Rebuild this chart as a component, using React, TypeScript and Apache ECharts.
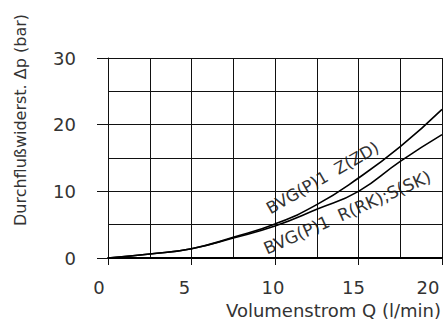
import React, { useEffect, useRef } from "react";
import * as echarts from "echarts";

const flowQ = [0, 2.5, 5, 7.5, 10, 12.5, 15, 17.5, 20];
const dpZD = [0, 0.6, 1.4, 3.1, 5.1, 8.0, 12.0, 16.7, 22.3];
const dpRKSK = [0, 0.6, 1.4, 3.0, 4.8, 7.3, 10.0, 14.5, 18.5];
const xTicks = [0, 5, 10, 15, 20];
const yTicks = [0, 10, 20, 30];
const labelZD = "BVG(P)1\u00a0\u00a0Z(ZD)";
const labelRKSK = "BVG(P)1\u00a0\u00a0R(RK);S(SK)";
const xTitle = "Volumenstrom Q (l/min)";
const yTitle = "Durchflußwiderst. Δp (bar)";

const FONT = "DejaVu Sans";
const TXT = "#333";
const LINE = "#111";

const xPad: Record<string, number> = { p0: 18, p5: 14, p10: 4, p15: 10, p20: 28 };

export default function App() {
  const ref = useRef<HTMLDivElement>(null);
  useEffect(() => {
    if (!ref.current) return;
    const chart = echarts.init(ref.current, undefined, { renderer: "svg" });
    const rich: any = {};
    xTicks.forEach((t) => {
      rich["p" + t] = {
        fontSize: 18,
        fontFamily: FONT,
        color: TXT,
        padding: [0, xPad["p" + t] || 0, 0, 0],
      };
    });
    const option: any = {
      animation: false,
      grid: { left: 108, right: 3, top: 58, bottom: 62 },
      xAxis: {
        type: "value",
        min: 0,
        max: 20,
        interval: 5,
        axisLine: { show: true, lineStyle: { color: "#000", width: 2 } },
        axisTick: { show: true, length: 7, lineStyle: { color: LINE, width: 1 } },
        splitLine: { show: true, lineStyle: { color: LINE, width: 1 } },
        minorTick: { show: false, splitNumber: 2 },
        minorSplitLine: { show: true, lineStyle: { color: LINE, width: 1 } },
        axisLabel: {
          margin: 20,
          fontSize: 18,
          fontFamily: FONT,
          color: TXT,
          formatter: (v: number) => (xTicks.includes(v) ? `{p${v}|${v}}` : ""),
          rich,
        },
      },
      yAxis: {
        type: "value",
        min: 0,
        max: 30,
        interval: 10,
        axisLine: { show: true, lineStyle: { color: LINE, width: 1 } },
        axisTick: { show: true, length: 11, lineStyle: { color: LINE, width: 1 } },
        splitLine: { show: true, lineStyle: { color: LINE, width: 1 } },
        minorTick: { show: false, splitNumber: 2 },
        minorSplitLine: { show: true, lineStyle: { color: LINE, width: 1 } },
        axisLabel: {
          margin: 32,
          fontSize: 18,
          fontFamily: FONT,
          color: TXT,
          formatter: (v: number) => (yTicks.includes(v) ? String(v) : ""),
        },
      },
      series: [
        {
          type: "line",
          name: labelZD,
          smooth: true,
          symbol: "none",
          lineStyle: { color: "#000", width: 1.6 },
          data: flowQ.map((q, i) => [q, dpZD[i]]),
        },
        {
          type: "line",
          name: labelRKSK,
          smooth: true,
          symbol: "none",
          lineStyle: { color: "#000", width: 1.6 },
          data: flowQ.map((q, i) => [q, dpRKSK[i]]),
        },
      ],
      graphic: [
        {
          type: "text",
          x: 20,
          y: 120,
          rotation: Math.PI / 2,
          style: {
            text: yTitle,
            fontSize: 16,
            fontFamily: FONT,
            fill: TXT,
            align: "center",
            verticalAlign: "middle",
          },
        },
        {
          type: "text",
          x: 441,
          y: 310,
          style: {
            text: xTitle,
            fontSize: 18,
            fontFamily: FONT,
            fill: TXT,
            align: "right",
            verticalAlign: "middle",
          },
        },
        {
          type: "text",
          x: 272,
          y: 217,
          rotation: (30 * Math.PI) / 180,
          style: {
            text: labelZD,
            fontSize: 16.5,
            fontFamily: FONT,
            fill: TXT,
            align: "left",
            verticalAlign: "bottom",
          },
        },
        {
          type: "text",
          x: 268,
          y: 257,
          rotation: (24 * Math.PI) / 180,
          style: {
            text: labelRKSK,
            fontSize: 17,
            fontFamily: FONT,
            fill: TXT,
            align: "left",
            verticalAlign: "bottom",
          },
        },
      ],
    };
    chart.setOption(option);
    return () => chart.dispose();
  }, []);
  return <div ref={ref} style={{ width: 445, height: 320, position: "absolute", left: 0, top: 0 }} />;
}
